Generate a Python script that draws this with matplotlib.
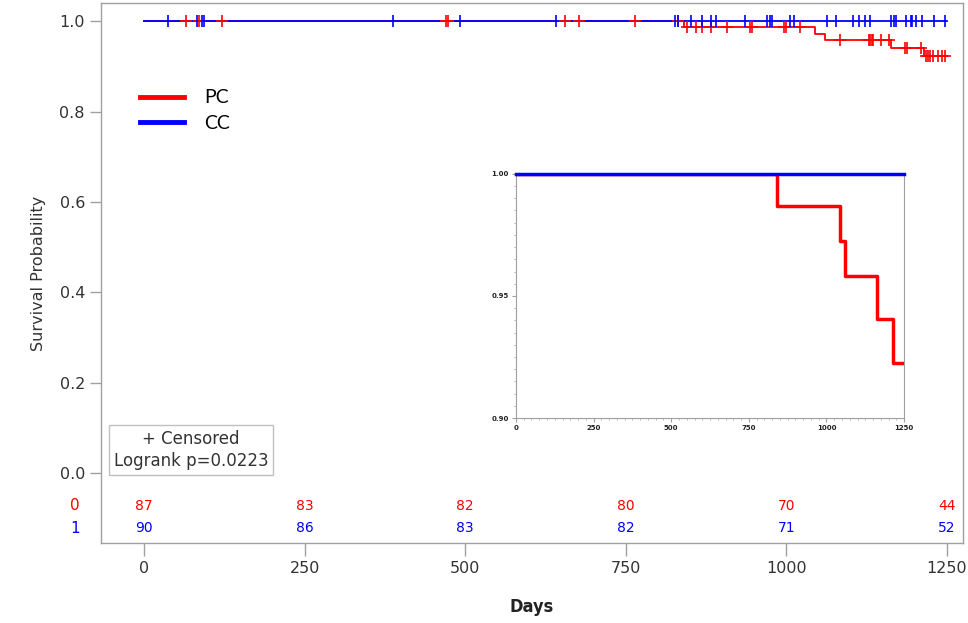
import numpy as np
import matplotlib
matplotlib.use("Agg")
import matplotlib.pyplot as plt
from matplotlib.lines import Line2D
from matplotlib.ticker import MultipleLocator

# PC (red) Kaplan-Meier steps
pc_event_days = [841, 1044, 1060, 1163, 1215]
pc_surv = [0.987, 0.9725, 0.958, 0.9406, 0.9225]
pc_censor_days = [65, 86, 121, 470, 474, 655, 678, 765, 832,
                  845, 860, 868, 883, 907, 943, 946, 997, 999, 1022,
                  1084, 1128, 1131, 1133, 1135, 1148, 1160,
                  1184, 1188, 1210,
                  1218, 1221, 1224, 1228, 1236, 1242, 1247]

# CC (blue) - no events
cc_censor_days = [37, 82, 90, 93, 388, 492, 641, 827, 831, 851, 868, 882, 890,
                  936, 970, 975, 978, 1006, 1012, 1064, 1077, 1104, 1113, 1122,
                  1130, 1163, 1167, 1171, 1186, 1194, 1196, 1202, 1211, 1230, 1247]
end_day = 1250

# number at risk
risk_days = [0, 250, 500, 750, 1000, 1250]
pc_at_risk = [87, 83, 82, 80, 70, 44]
cc_at_risk = [90, 86, 83, 82, 71, 52]

RED = "#FF0000"
BLUE = "#0000FF"
GREY = "#A0A0A0"
TXT = "#333333"


def km_steps(event_days, surv):
    x = [0] + list(event_days) + [end_day]
    y = [1.0] + list(surv) + [surv[-1] if surv else 1.0]
    return x, y


def surv_at(days, event_days, surv):
    idx = np.searchsorted(event_days, days, side="right")
    vals = np.concatenate([[1.0], surv])
    return vals[idx]


fig = plt.figure(figsize=(9.68, 6.23), dpi=100)
ax = fig.add_axes([0.1043, 0.1284, 0.8905, 0.8666])

px, py = km_steps(pc_event_days, pc_surv)
cx, cy = km_steps([], [])
ax.step(px, py, where="post", color=RED, lw=1.3, zorder=3)
ax.step(cx, cy, where="post", color=BLUE, lw=1.3, zorder=4)

ax.plot(pc_censor_days, surv_at(pc_censor_days, pc_event_days, pc_surv),
        ls="none", marker="+", ms=9, mew=1.2, color=RED, zorder=4.5)
ax.plot(cc_censor_days, np.ones(len(cc_censor_days)),
        ls="none", marker="|", ms=9, mew=1.2, color=BLUE, zorder=5)

ax.set_xlim(-67, 1275)
ax.set_ylim(-0.155, 1.04)
ax.set_yticks([0.0, 0.2, 0.4, 0.6, 0.8, 1.0])
ax.set_yticklabels(["0.0", "0.2", "0.4", "0.6", "0.8", "1.0"])
ax.set_xticks(risk_days)
ax.tick_params(axis="both", colors=GREY, labelcolor=TXT, labelsize=11.5,
               length=8, width=1)
ax.tick_params(axis="x", length=9, pad=4)
for sp in ax.spines.values():
    sp.set_color(GREY)
    sp.set_linewidth(1.0)

ax.set_ylabel("Survival Probability", fontsize=11.5, color=TXT, labelpad=10)
ax.set_xlabel("Days", fontsize=13, fontweight="bold", color="#222222",
              fontstretch="condensed", labelpad=16)

# at-risk table
for d, n in zip(risk_days, pc_at_risk):
    ax.text(d, -0.073, str(n), color=RED, fontsize=10, ha="center", va="center")
for d, n in zip(risk_days, cc_at_risk):
    ax.text(d, -0.122, str(n), color=BLUE, fontsize=10, ha="center", va="center")
ax.text(-0.03, -0.073, "0", color=RED, fontsize=11, ha="center", va="center",
        transform=ax.get_yaxis_transform())
ax.text(-0.03, -0.122, "1", color=BLUE, fontsize=11, ha="center", va="center",
        transform=ax.get_yaxis_transform())

# censored / logrank box
ax.text(0.1044, 0.172, "+ Censored\nLogrank p=0.0223", transform=ax.transAxes,
        ha="center", va="center", fontsize=12, color=TXT, linespacing=1.25,
        bbox=dict(boxstyle="square,pad=0.3", fc="white", ec="#C0C0C0", lw=1))

handles = [Line2D([], [], color=RED, lw=3.5), Line2D([], [], color=BLUE, lw=3.5)]
ax.legend(handles, ["PC", "CC"], loc="upper left", bbox_to_anchor=(0.045, 0.84),
          frameon=False, handlelength=2.3, handletextpad=1.0,
          labelspacing=0.45, borderpad=0, borderaxespad=0,
          prop={"family": "Lato", "size": 14})

# inset
ins = fig.add_axes([0.533, 0.329, 0.401, 0.392])
ins.step(px, py, where="post", color=RED, lw=2.5, zorder=3)
ins.step(cx, cy, where="post", color=BLUE, lw=2.5, zorder=4, clip_on=False)
ins.set_xlim(0, 1250)
ins.set_ylim(0.90, 1.00)
ins.set_xticks(risk_days)
ins.set_yticks([0.90, 0.95, 1.00])
ins.set_yticklabels(["0.90", "0.95", "1.00"])
ins.xaxis.set_minor_locator(MultipleLocator(25))
ins.yaxis.set_minor_locator(MultipleLocator(0.005))
ins.tick_params(axis="both", which="major", colors=GREY, labelcolor="#222222",
                labelsize=5, length=3, width=0.8, pad=2)
ins.tick_params(axis="both", which="minor", colors=GREY, length=1.5, width=0.5)
for lab in ins.get_xticklabels() + ins.get_yticklabels():
    lab.set_fontweight("bold")
for sp in ins.spines.values():
    sp.set_color(GREY)
    sp.set_linewidth(0.8)

fig.savefig("out.png", dpi=100)
